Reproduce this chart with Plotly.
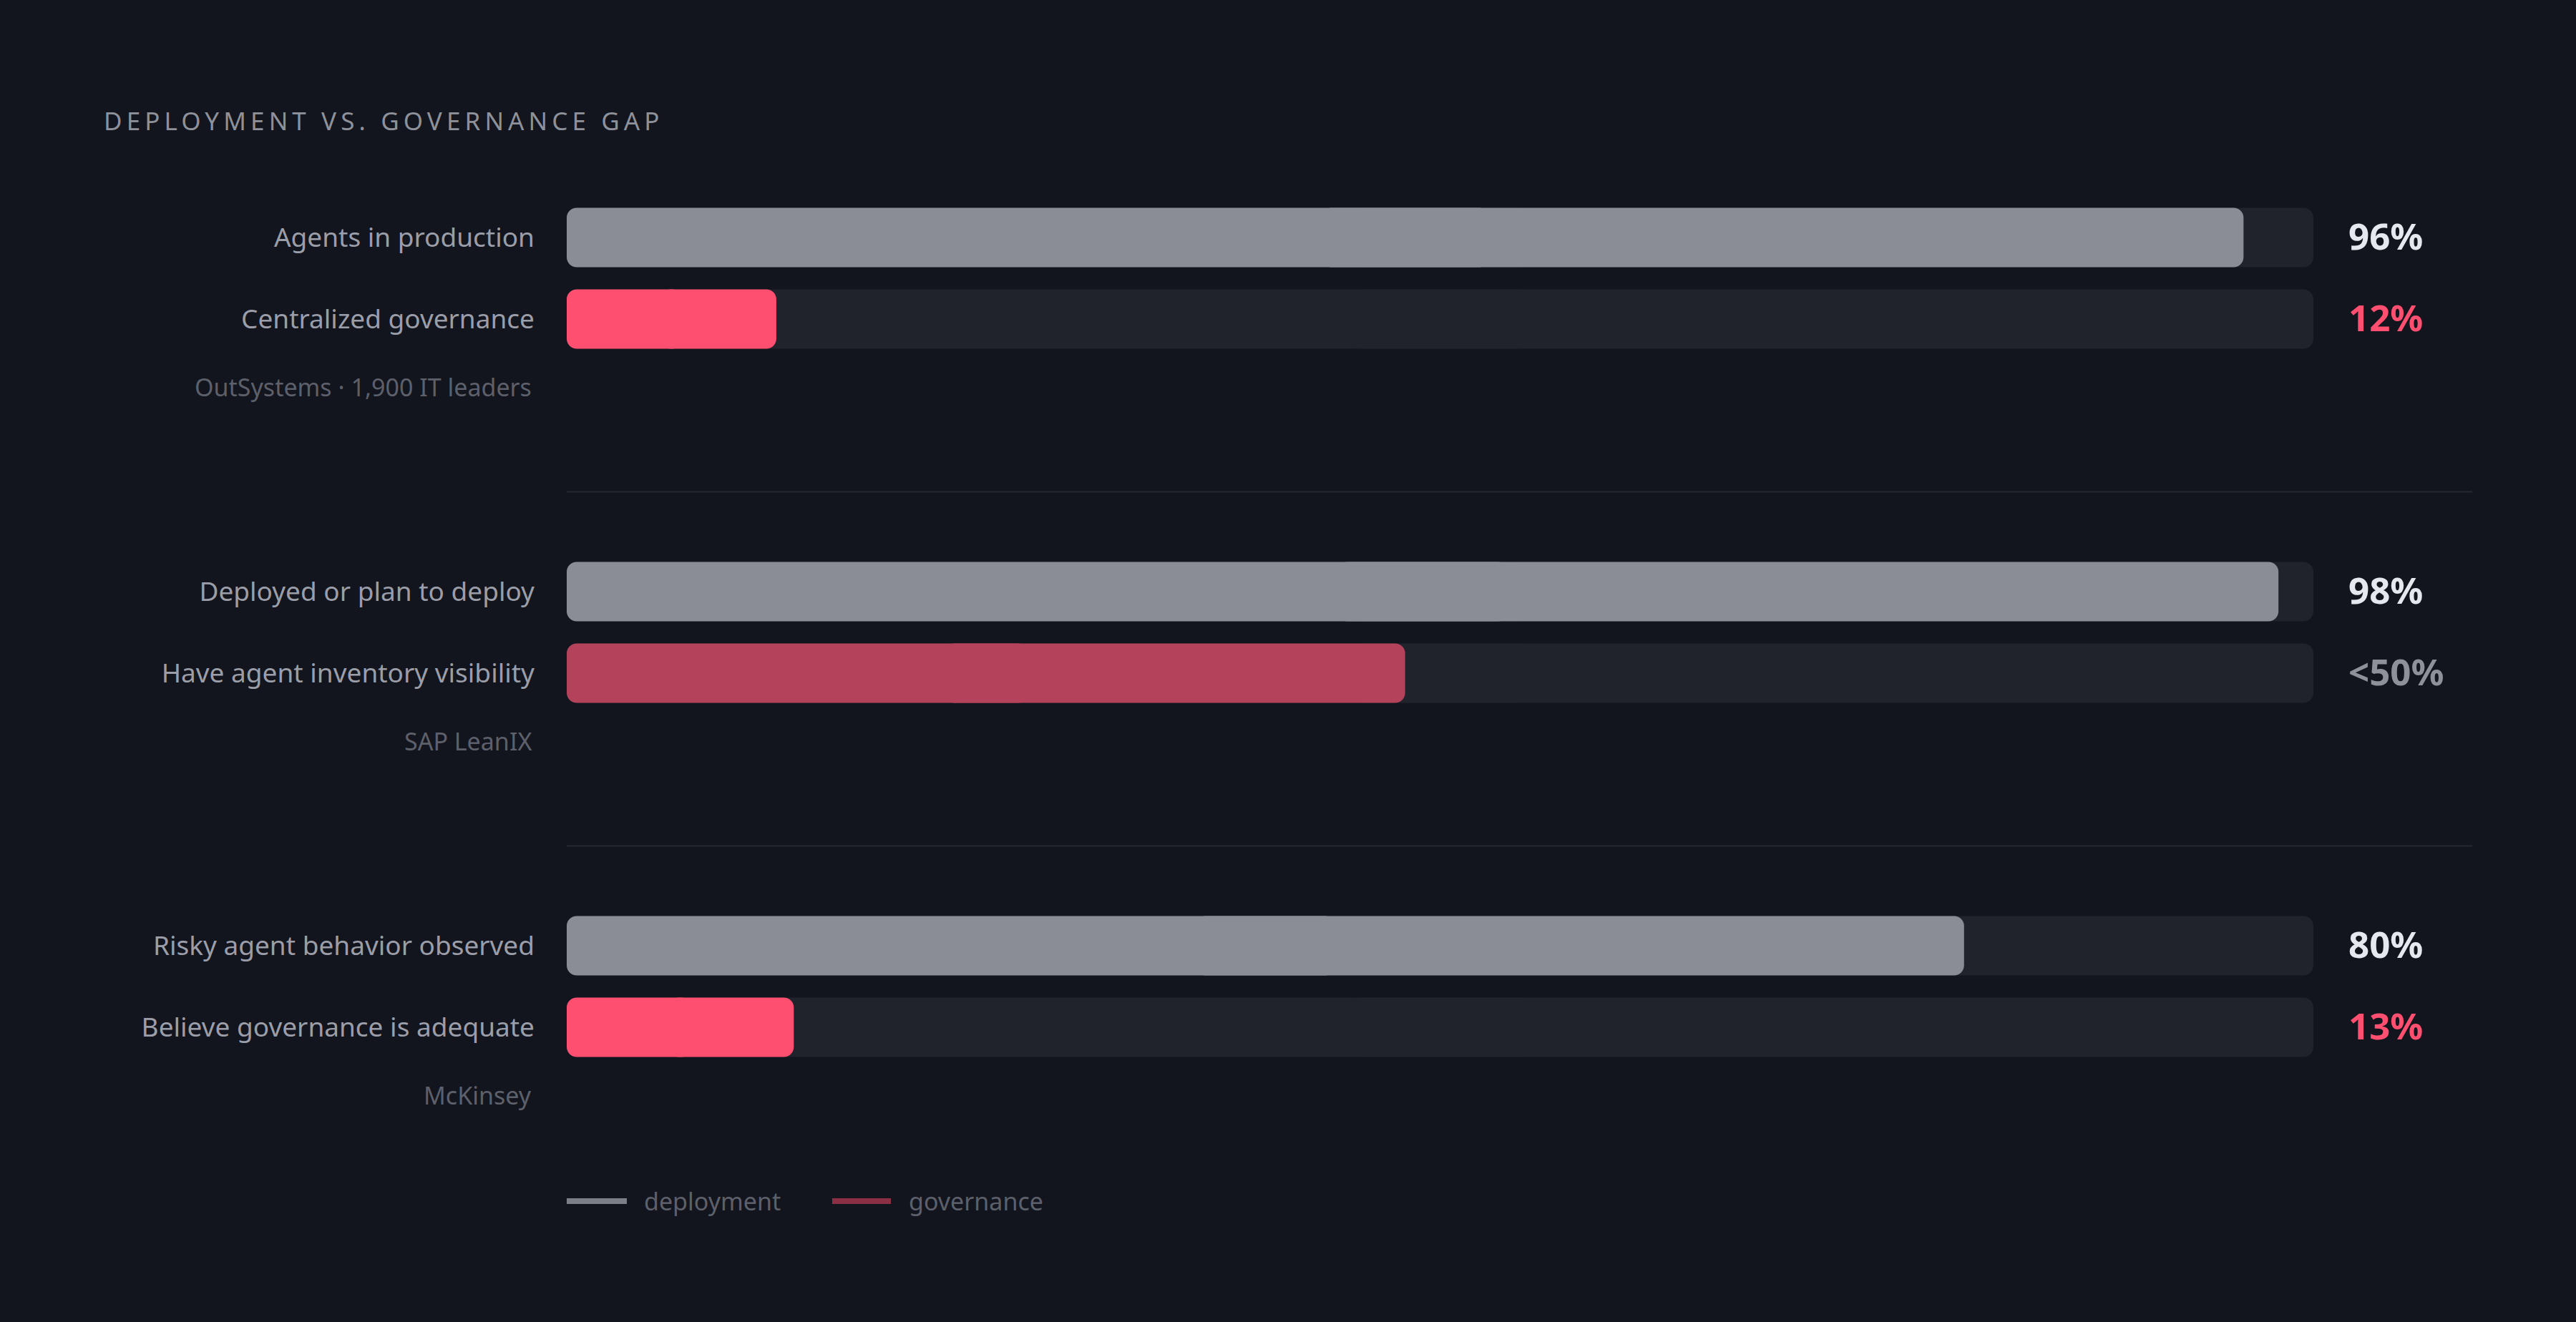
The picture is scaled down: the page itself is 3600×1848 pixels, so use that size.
import plotly.graph_objects as go

# ---------------- data ----------------
TITLE = "DEPLOYMENT VS. GOVERNANCE GAP"
sources = ["OutSystems · 1,900 IT leaders", "SAP LeanIX", "McKinsey"]
deploy_labels = ["Agents in production", "Deployed or plan to deploy", "Risky agent behavior observed"]
gov_labels = ["Centralized governance", "Have agent inventory visibility", "Believe governance is adequate"]
deploy_values = [96, 98, 80]
gov_values = [12, 48, 13]
deploy_text = ["96%", "98%", "80%"]
gov_text = ["12%", "<50%", "13%"]
gov_muted = [False, True, False]
legend_names = ["deployment", "governance"]

# ---------------- style ----------------
W, H = 3600, 1848
FONT = "Noto Sans, Roboto, sans-serif"
VFONT = "Noto Sans, Roboto, sans-serif"
BG = "#12151d"
TRACK = "#20232b"
DEPLOY_C = "#8a8d96"
GOV_C = "#ff4f70"
GOV_MUTED_C = "#b3425a"
LABEL_C = "#9b9ea8"
CAPTION_C = "#5d606a"
TITLE_C = "#8e919a"
VAL_DEPLOY_C = "#e6e8ef"
VAL_MUTED_C = "#8e919a"
DIVIDER_C = "#262932"
LEG_DEPLOY_C = "#7c7f88"
LEG_GOV_C = "#8b2f45"

ROW_PX = 114.0          # distance between bar centres within a group
ROW0_PX = 332.0         # centre of first bar
GROUP_STEP = 495.0 / ROW_PX
X0_PX, X1_PX = 792.0, 3233.0
BAR_W = 83.0 / ROW_PX
RADIUS = 14
VAL_SHIFT = -3.0 / ROW_PX

def py(p):  # pixel -> paper y
    return 1 - p / H

def px(p):  # pixel -> paper x
    return p / W

n = len(sources)
dep_y = [g * GROUP_STEP for g in range(n)]
gov_y = [g * GROUP_STEP + 1 for g in range(n)]

fig = go.Figure()

def add_rounded(ys, vals, colors):
    # two overlapping halves so that both ends get rounded corners
    left_base = [0.55 * v for v in vals]
    left_len = [-0.55 * v for v in vals]
    right_base = [0.45 * v for v in vals]
    right_len = [0.55 * v for v in vals]
    for base, length in ((left_base, left_len), (right_base, right_len)):
        fig.add_trace(go.Bar(
            orientation="h", y=ys, x=length, base=base, width=BAR_W,
            marker=dict(color=colors, cornerradius=RADIUS, line=dict(width=0)),
            opacity=1, hoverinfo="skip", showlegend=False, cliponaxis=False,
        ))

all_y = dep_y + gov_y
add_rounded(all_y, [100] * len(all_y), [TRACK] * len(all_y))
add_rounded(dep_y, deploy_values, [DEPLOY_C] * n)
add_rounded(gov_y, gov_values, [GOV_MUTED_C if m else GOV_C for m in gov_muted])

annotations = []
shapes = []

# title
annotations.append(dict(
    xref="paper", yref="paper", x=px(143), y=py(168), xanchor="left", yanchor="middle",
    text=f"<span style='letter-spacing:6.1px'>{TITLE}</span>", showarrow=False,
    font=dict(family=FONT, size=35, color=TITLE_C),
))

for g in range(n):
    # value labels
    annotations.append(dict(
        xref="paper", yref="y", x=px(3280), y=dep_y[g] + VAL_SHIFT, xanchor="left", yanchor="middle",
        text=deploy_text[g], showarrow=False,
        font=dict(family=VFONT, size=51, color=VAL_DEPLOY_C, weight=700),
    ))
    annotations.append(dict(
        xref="paper", yref="y", x=px(3280), y=gov_y[g] + VAL_SHIFT, xanchor="left", yanchor="middle",
        text=gov_text[g], showarrow=False,
        font=dict(family=VFONT, size=51, color=VAL_MUTED_C if gov_muted[g] else GOV_C, weight=700),
    ))
    # source caption
    annotations.append(dict(
        xref="paper", yref="y", x=px(745), y=dep_y[g] + 209 / ROW_PX, xanchor="right", yanchor="middle",
        text=sources[g], showarrow=False,
        font=dict(family=FONT, size=34, color=CAPTION_C),
    ))
    # divider
    if g < n - 1:
        ydiv = dep_y[g] + 3.118
        shapes.append(dict(type="line", xref="paper", yref="y", x0=px(792), x1=px(3455),
                           y0=ydiv, y1=ydiv, line=dict(color=DIVIDER_C, width=2)))

# legend
leg_y = py(1679)
for (lx0, lx1, tx), name, col in zip(((792, 876, 898), (1163, 1245, 1268)), legend_names,
                                     (LEG_DEPLOY_C, LEG_GOV_C)):
    shapes.append(dict(type="line", xref="paper", yref="paper", x0=px(lx0), x1=px(lx1),
                       y0=leg_y, y1=leg_y, line=dict(color=col, width=8)))
    annotations.append(dict(
        xref="paper", yref="paper", x=px(tx), y=leg_y, xanchor="left", yanchor="middle",
        text=name, showarrow=False, font=dict(family=FONT, size=34, color=CAPTION_C),
    ))

tickvals = []
ticktext = []
for g in range(n):
    tickvals += [dep_y[g], gov_y[g]]
    ticktext += [deploy_labels[g], gov_labels[g]]

fig.update_layout(
    width=W, height=H, margin=dict(l=0, r=0, t=0, b=0),
    paper_bgcolor=BG, plot_bgcolor=BG, barmode="overlay", showlegend=False,
    xaxis=dict(domain=[px(X0_PX), px(X1_PX)], range=[0, 100], visible=False, fixedrange=True),
    yaxis=dict(domain=[0, 1], range=[(H - ROW0_PX) / ROW_PX, -ROW0_PX / ROW_PX],
               tickvals=tickvals, ticktext=ticktext, ticks="", ticklen=0,
               ticklabelstandoff=44, showgrid=False, zeroline=False, showline=False,
               tickfont=dict(family=FONT, size=37, color=LABEL_C), fixedrange=True),
    annotations=annotations, shapes=shapes,
    font=dict(family=FONT),
)

fig.write_html(
    "out.html",
    config={"displayModeBar": False},
    post_script=(
        "document.documentElement.style.margin='0';"
        "document.body.style.margin='0';"
        "document.body.style.overflow='hidden';"
        "document.body.style.background='#12151d';"
    ),
)
